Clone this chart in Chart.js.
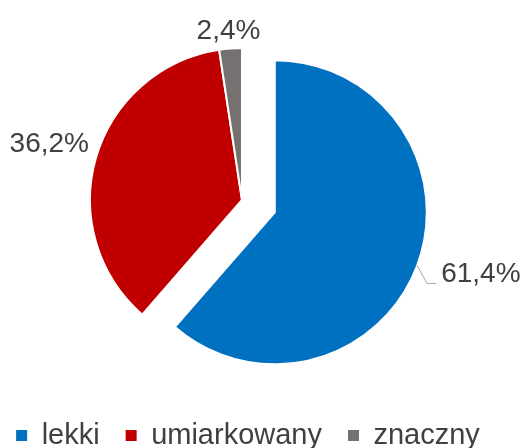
<!DOCTYPE html>
<html>
<head>
<meta charset="utf-8">
<script src="https://cdn.jsdelivr.net/npm/chart.js@4.4.1/dist/chart.umd.min.js"></script>
<style>
  html, body { margin: 0; padding: 0; background: #fff; overflow: hidden; }
  /* lienzo algo más ancho que la ventana para que la leyenda quepa en una fila */
  #wrap { position: absolute; left: -30px; top: 0; width: 560px; height: 460px; }
</style>
</head>
<body>
<div id="wrap"><canvas id="pieCanvas"></canvas></div>
<script>
(function(){
  'use strict';

  // ---- Datos ----
  const categories  = ['lekki', 'umiarkowany', 'znaczny'];
  const shares      = [61.4, 36.2, 2.4];
  const sliceColors = ['#0070C0', '#C00000', '#767171'];

  // ---- Estilo ----
  const FONT = "'Liberation Sans', Arial, sans-serif";
  const TEXT = '#404040';
  const EXPLODE = [35, 0, 0];                       // desplazamiento del sector (px)
  const LEADER_INDEX = 0;                           // etiqueta con línea guía
  const LABEL_NUDGE = [[0, 0], [0, -7], [1, 6]];    // ajuste fino de etiquetas (px)

  const fmtPct = (v) => v.toFixed(1).replace('.', ',') + '%';

  // Separa el sector sin cambiar su radio
  const explodePlugin = {
    id: 'explode',
    afterDatasetUpdate(chart, args){
      args.meta.data.forEach((arc, i) => {
        const d = EXPLODE[i];
        if (!d) return;
        const mid = (arc.startAngle + arc.endAngle) / 2;
        arc.x += Math.cos(mid) * d;
        arc.y += Math.sin(mid) * d;
      });
    }
  };

  // Etiquetas de porcentaje fuera del círculo
  const labelPlugin = {
    id: 'pctLabels',
    afterDatasetsDraw(chart){
      const ctx = chart.ctx;
      const meta = chart.getDatasetMeta(0);
      ctx.save();
      ctx.font = '28px ' + FONT;
      ctx.fillStyle = TEXT;
      meta.data.forEach((arc, i) => {
        const text = fmtPct(shares[i]);
        const mid = (arc.startAngle + arc.endAngle) / 2;
        const dx = Math.cos(mid), dy = Math.sin(mid);
        const r = arc.outerRadius;
        const [nx, ny] = LABEL_NUDGE[i];
        if (i === LEADER_INDEX) {
          const ex = arc.x + dx * r, ey = arc.y + dy * r;
          const bx = ex + 10, by = ey + 18;
          ctx.strokeStyle = '#A6A6A6';
          ctx.lineWidth = 1;
          ctx.beginPath();
          ctx.moveTo(ex, ey);
          ctx.lineTo(bx, by);
          ctx.lineTo(bx + 9, by);
          ctx.stroke();
          ctx.textAlign = 'left';
          ctx.textBaseline = 'middle';
          ctx.fillText(text, bx + 14 + nx, by - 9 + ny);
        } else {
          const w = ctx.measureText(text).width, h = 28;
          const ax = arc.x + dx * (r + 9), ay = arc.y + dy * (r + 9);
          ctx.textAlign = 'center';
          ctx.textBaseline = 'middle';
          ctx.fillText(text, ax + dx * w / 2 + nx, ay + dy * h / 2 + ny);
        }
      });
      ctx.restore();
    }
  };

  // Desplaza la leyenda un poco a la derecha
  const legendNudge = {
    id: 'legendNudge',
    afterLayout(chart){
      if (chart.legend) { chart.legend.left += 6; chart.legend.right += 6; }
    }
  };

  const canvas = document.getElementById('pieCanvas');
  new Chart(canvas.getContext('2d'), {
    type: 'pie',
    data: {
      labels: categories,
      datasets: [{
        data: shares,
        backgroundColor: sliceColors,
        borderColor: '#ffffff',
        borderWidth: 2,
        hoverOffset: 0
      }]
    },
    options: {
      responsive: true,
      maintainAspectRatio: false,
      animation: false,
      radius: 152,
      layout: { padding: { left: 0, right: 16, top: 5, bottom: 0 } },
      plugins: {
        tooltip: { enabled: false },
        legend: {
          position: 'bottom',
          labels: {
            boxWidth: 11,
            boxHeight: 11,
            padding: 26,
            color: TEXT,
            font: { size: 29, family: FONT },
            generateLabels: () => categories.map((t, i) => ({
              text: t,
              fillStyle: sliceColors[i],
              strokeStyle: sliceColors[i],
              lineWidth: 0,
              fontColor: TEXT,
              hidden: false,
              index: i
            }))
          }
        }
      }
    },
    plugins: [explodePlugin, labelPlugin, legendNudge]
  });
})();
</script>
</body>
</html>
